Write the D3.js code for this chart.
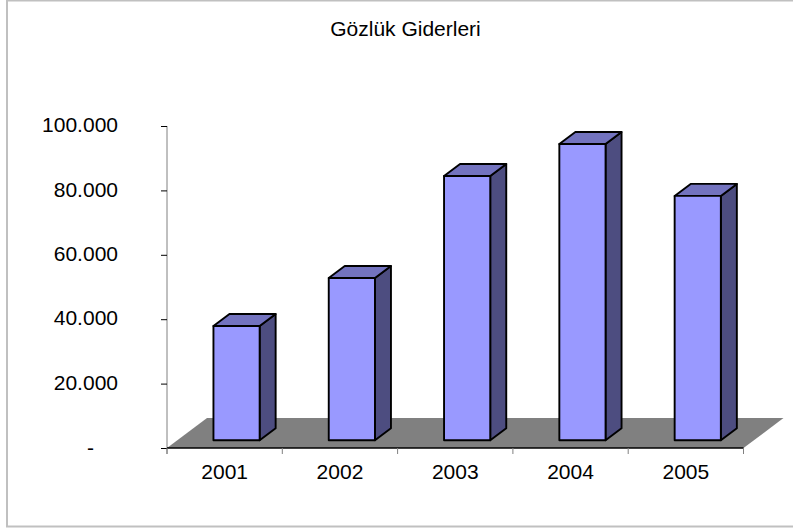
<!DOCTYPE html>
<html><head><meta charset="utf-8">
<style>html,body{margin:0;padding:0;background:#fff}svg{display:block}text{font-family:"Liberation Sans",Arial,sans-serif;fill:#000}</style>
<script src="https://cdn.jsdelivr.net/npm/d3@7"></script></head>
<body><script>
const title = "Gözlük Giderleri";
const categories = ["2001","2002","2003","2004","2005"];
const values = [35500,50400,82100,92000,75900];
const yTicks = [0,20000,40000,60000,80000,100000];
const yTickLabels = ["-","20.000","40.000","60.000","80.000","100.000"];

const svg = d3.select("body").append("svg").attr("width",793).attr("height",529);
svg.append("rect").attr("x",7).attr("y",0.5).attr("width",800).attr("height",526)
  .attr("fill","#fff").attr("stroke","#c0c0c0").attr("stroke-width",2);

const x = d3.scaleBand().domain(categories).range([167,743.5]).paddingInner(0).paddingOuter(0);
const y = d3.scaleLinear().domain([0,100000]).range([448,126]);
const depthX = 40, depthY = 30;
const barDX = 11.9, barDY = -7.7;
const bw = 46.2, sideX = 16, sideY = 12;

const x0 = x.range()[0], x1 = x.range()[1], y0 = y(0);
svg.append("path").attr("fill","#808080")
  .attr("d",`M${x0},${y0}L${x0+depthX},${y0-depthY}L${x1+depthX},${y0-depthY}L${x1},${y0}Z`);

const yAxis = d3.axisLeft(y).tickValues(yTicks).tickFormat((d,i)=>yTickLabels[i]).tickSize(6).tickPadding(43);
const gy = svg.append("g").attr("transform",`translate(${x0},0)`).call(yAxis);
const xAxis = d3.axisBottom(x).tickSize(0).tickPadding(16.5);
const gx = svg.append("g").attr("transform",`translate(0,${y0})`).call(xAxis);
gx.selectAll(".sep").data(d3.range(categories.length+1)).enter().append("line").attr("class","sep")
  .attr("x1",i=>x0+i*x.step()).attr("x2",i=>x0+i*x.step()).attr("y1",0).attr("y2",6).attr("stroke","#808080");
gy.select(".domain").attr("stroke","#808080").attr("stroke-width",1).attr("d",`M0,${y(100000)}V${y(0)+6}`);
gy.selectAll(".tick line").attr("stroke","#000");
gx.select(".domain").attr("stroke","#000").attr("stroke-width",1.3).attr("d",`M${x0},0H${x1}`);
svg.selectAll("g text").style("font-size","21px");
gy.selectAll(".tick text").attr("dy","0.27em");
// the zero label sits apart from the right-aligned numbers, as in an accounting format
gy.selectAll(".tick text").filter(d=>d===0).attr("x",-73).attr("dy","0.32em");

const barL = d => x(d.c)+x.step()/2-bw/2+barDX;
const barT = d => y(d.v)+barDY;
const barB = y(0)+barDY;
const data = categories.map((c,i)=>({c,v:values[i]}));
const g = svg.selectAll(".bar").data(data).enter().append("g").attr("class","bar")
  .attr("stroke","#000").attr("stroke-width",1.9).attr("stroke-linejoin","round");
g.append("path").attr("fill","#4d4d80").attr("d",d=>{const r=barL(d)+bw;
  return `M${r},${barT(d)}l${sideX},${-sideY}V${barB-sideY}L${r},${barB}Z`;});
g.append("path").attr("fill","#7373bf").attr("d",d=>{const l=barL(d),t=barT(d);
  return `M${l},${t}l${sideX},${-sideY}h${bw}l${-sideX},${sideY}Z`;});
g.append("rect").attr("fill","#9999ff").attr("x",barL).attr("y",barT).attr("width",bw).attr("height",d=>barB-barT(d));

svg.append("text").attr("x",405.5).attr("y",36).attr("text-anchor","middle").style("font-size","21px").text(title);
</script></body></html>
